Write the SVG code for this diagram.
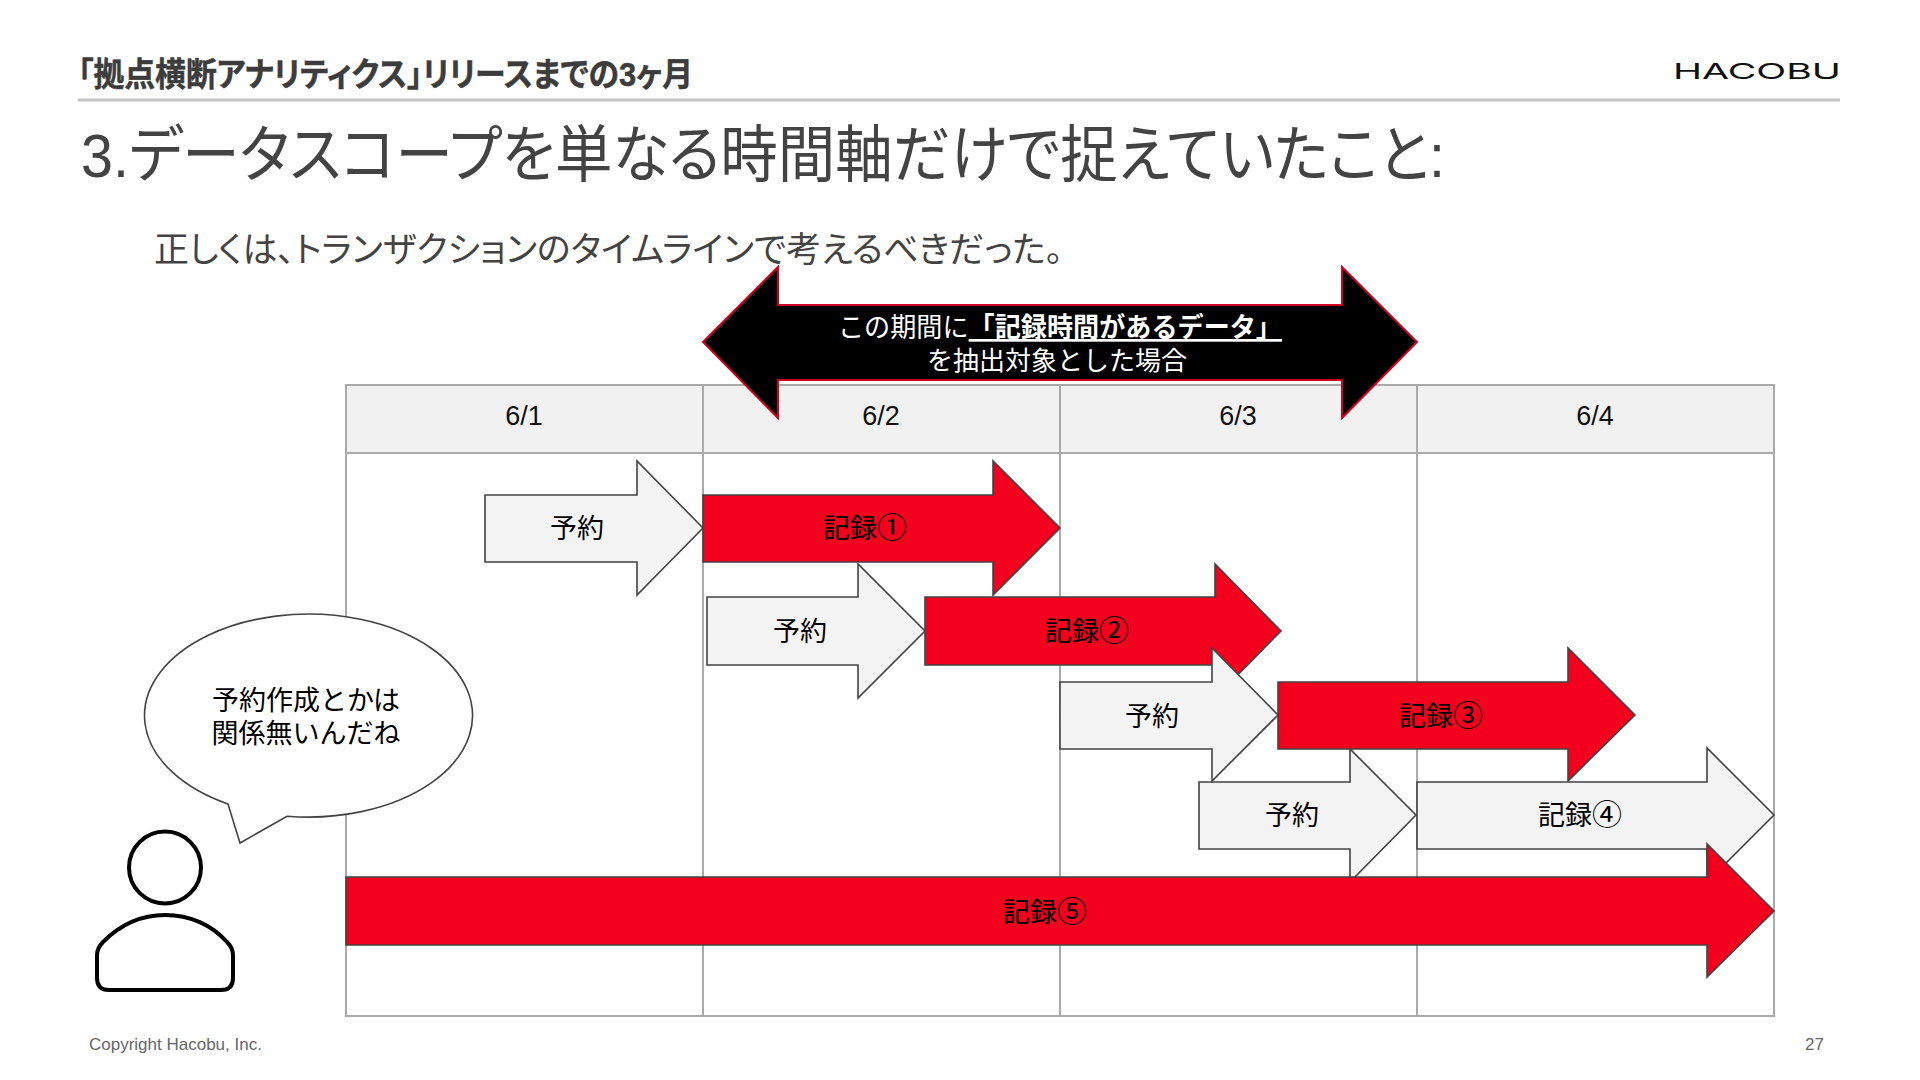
<svg xmlns="http://www.w3.org/2000/svg" width="1920" height="1080" viewBox="0 0 1920 1080">
<style>
text{font-family:"Liberation Sans","Noto Sans CJK JP",sans-serif}
.c{text-anchor:middle}
.l{font-size:27px;fill:#000}
.n{font-size:30px}
.d{font-size:27px;fill:#111}
.p{font-feature-settings:"palt"}
.res{fill:#f3f3f3;stroke:#434343;stroke-width:1.6}
.rec{fill:#f3001e;stroke:#434343;stroke-width:1.6}
.grid{stroke:#aaa;stroke-width:2;fill:none}
</style>
<rect width="1920" height="1080" fill="#fff"/>
<g id="header">
<text class="p" x="78" y="86" font-size="33" font-weight="700" fill="#3c3c3c" stroke="#3c3c3c" stroke-width=".5" textLength="615" lengthAdjust="spacingAndGlyphs">「拠点横断アナリティクス」リリースまでの3ヶ月</text>
<text id="logo" x="1673" y="79" font-size="22" fill="#111" style="font-family:Inter,sans-serif" textLength="168" lengthAdjust="spacingAndGlyphs">HACOBU</text>
<line x1="78" y1="100" x2="1840" y2="100" stroke="#c4c4c4" stroke-width="3"/>
<text class="p" x="81" y="177" font-size="62" fill="#434343" textLength="1364" lengthAdjust="spacingAndGlyphs">3.データスコープを単なる時間軸だけで捉えていたこと:</text>
<text class="p" x="154" y="262" font-size="35" fill="#434343" textLength="909" lengthAdjust="spacingAndGlyphs">正しくは、トランザクションのタイムラインで考えるべきだった。</text>
</g>
<g id="table">
<rect x="346" y="385" width="1428" height="68" fill="#f1f1f1"/>
<rect class="grid" x="346" y="385" width="1428" height="631"/>
<path class="grid" d="M346 453H1774M703 385V1016M1060 385V1016M1417 385V1016"/>
<text class="c d" x="524" y="425">6/1</text>
<text class="c d" x="881" y="425">6/2</text>
<text class="c d" x="1238" y="425">6/3</text>
<text class="c d" x="1595" y="425">6/4</text>
</g>
<g id="period-arrow">
<path d="M703 342L778 267V305H1342V267L1417 342L1342 418V380H778V418Z" fill="#000" stroke="#d0001e" stroke-width="2"/>
<text x="838" y="337" font-size="27" fill="#fff" textLength="444" lengthAdjust="spacingAndGlyphs">この期間に<tspan font-weight="700" text-decoration="underline">「記録時間があるデータ」</tspan></text>
<text class="c" x="1057" y="370" font-size="26" fill="#fff">を抽出対象とした場合</text>
</g>
<g id="timeline-arrows">
<g id="reserve-1"><path class="res" d="M485 495H637V461L703 528L637 595V562H485Z"/><text class="c l" x="577" y="538">予約</text></g>
<g id="record-1"><path class="rec" d="M703 495H993V461L1060 528L993 595V562H703Z"/><text class="c l" x="865" y="538">記録<tspan class="n">①</tspan></text></g>
<g id="reserve-2"><path class="res" d="M707 597H858V564L925 631L858 698V665H707Z"/><text class="c l" x="800" y="641">予約</text></g>
<g id="record-2"><path class="rec" d="M925 597H1215V564L1281 631L1215 698V665H925Z"/><text class="c l" x="1087" y="641">記録<tspan class="n">②</tspan></text></g>
<g id="reserve-3"><path class="res" d="M1060 682H1212V648L1278 715L1212 781V749H1060Z"/><text class="c l" x="1152" y="726">予約</text></g>
<g id="reserve-4"><path class="res" d="M1199 782H1350V749L1416 815L1350 882V849H1199Z"/><text class="c l" x="1292" y="825">予約</text></g>
<g id="record-3"><path class="rec" d="M1278 682H1568V648L1635 715L1568 781V749H1278Z"/><text class="c l" x="1441" y="726">記録<tspan class="n">③</tspan></text></g>
<g id="record-4"><path class="res" d="M1417 782H1707V748L1774 815L1707 882V849H1417Z"/><text class="c l" x="1580" y="825">記録<tspan class="n">④</tspan></text></g>
<g id="record-5"><path class="rec" d="M346 877H1707V844L1774 911L1707 977V945H346Z"/><text class="c l" x="1045" y="922">記録<tspan class="n">⑤</tspan></text></g>
</g>
<g id="speech-bubble">
<path d="M228 804A164 101.500 0 1 1 287 816.200L240 843Z" fill="#fff" stroke="#434343" stroke-width="1.600"/>
<text class="c l" x="306" y="710">予約作成とかは</text>
<text class="c l" x="306" y="743">関係無いんだね</text>
</g>
<g id="person" fill="#fff" stroke="#000" stroke-width="4">
<circle cx="165" cy="867.500" r="36"/>
<path d="M97 955Q97 948 103 942C120 925 140 915 165 915C190 915 212 925 227 942Q233 948 233 955V978Q233 990 221 990H109Q97 990 97 978Z"/>
</g>
<g id="footer">
<text x="89" y="1050" font-size="17" fill="#666">Copyright Hacobu, Inc.</text>
<text x="1805" y="1050" font-size="17" fill="#666">27</text>
</g>
</svg>
